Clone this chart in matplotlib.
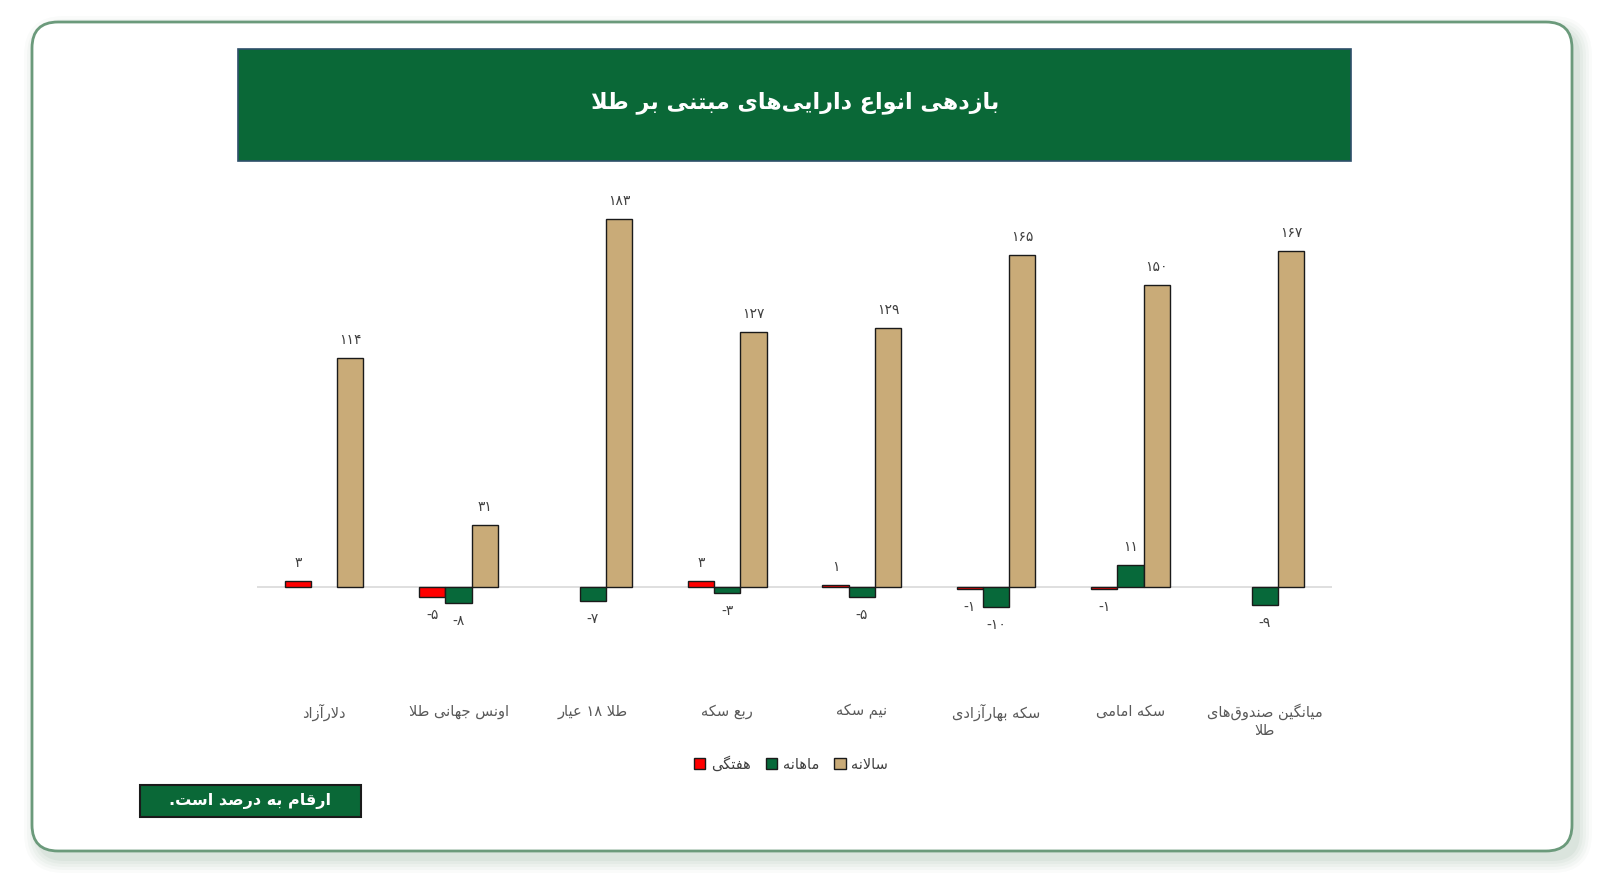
#!/usr/bin/env python3
"""
Returns of gold-based assets (weekly / monthly / annual), Persian labels.
"""

import numpy as np
import matplotlib
matplotlib.use('Agg')
import matplotlib.pyplot as plt
from matplotlib.patches import FancyBboxPatch, Rectangle, Patch

# ---- data -------------------------------------------------------------
categories = ['دلارآزاد', 'اونس جهانی طلا', 'طلا ۱۸ عیار', 'ربع سکه',
              'نیم سکه', 'سکه بهارآزادی', 'سکه امامی',
              'میانگین صندوق‌های\nطلا']
weekly = [3, -5, np.nan, 3, 1, -1, -1, np.nan]
monthly = [np.nan, -8, -7, -3, -5, -10, 11, -9]
annual = [114, 31, 183, 127, 129, 165, 150, 167]
series_names = ['هفتگی', 'ماهانه', 'سالانه']
title = 'بازدهی انواع دارایی‌های مبتنی بر طلا'
note = 'ارقام به درصد است.'

# ---- minimal Persian shaping (matplotlib has no complex text layout) ----
FORMS = {
    'ا': ('\uFE8D', '\uFE8E'), 'آ': ('\uFE81', '\uFE82'),
    'د': ('\uFEA9', '\uFEAA'), 'ذ': ('\uFEAB', '\uFEAC'),
    'ر': ('\uFEAD', '\uFEAE'), 'ز': ('\uFEAF', '\uFEB0'),
    'ژ': ('\uFB8A', '\uFB8B'), 'و': ('\uFEED', '\uFEEE'),
    'ب': ('\uFE8F', '\uFE90', '\uFE91', '\uFE92'),
    'پ': ('\uFB56', '\uFB57', '\uFB58', '\uFB59'),
    'ت': ('\uFE95', '\uFE96', '\uFE97', '\uFE98'),
    'ث': ('\uFE99', '\uFE9A', '\uFE9B', '\uFE9C'),
    'ج': ('\uFE9D', '\uFE9E', '\uFE9F', '\uFEA0'),
    'چ': ('\uFB7A', '\uFB7B', '\uFB7C', '\uFB7D'),
    'ح': ('\uFEA1', '\uFEA2', '\uFEA3', '\uFEA4'),
    'خ': ('\uFEA5', '\uFEA6', '\uFEA7', '\uFEA8'),
    'س': ('\uFEB1', '\uFEB2', '\uFEB3', '\uFEB4'),
    'ش': ('\uFEB5', '\uFEB6', '\uFEB7', '\uFEB8'),
    'ص': ('\uFEB9', '\uFEBA', '\uFEBB', '\uFEBC'),
    'ض': ('\uFEBD', '\uFEBE', '\uFEBF', '\uFEC0'),
    'ط': ('\uFEC1', '\uFEC2', '\uFEC3', '\uFEC4'),
    'ظ': ('\uFEC5', '\uFEC6', '\uFEC7', '\uFEC8'),
    'ع': ('\uFEC9', '\uFECA', '\uFECB', '\uFECC'),
    'غ': ('\uFECD', '\uFECE', '\uFECF', '\uFED0'),
    'ف': ('\uFED1', '\uFED2', '\uFED3', '\uFED4'),
    'ق': ('\uFED5', '\uFED6', '\uFED7', '\uFED8'),
    'ک': ('\uFB8E', '\uFB8F', '\uFB90', '\uFB91'),
    'گ': ('\uFB92', '\uFB93', '\uFB94', '\uFB95'),
    'ل': ('\uFEDD', '\uFEDE', '\uFEDF', '\uFEE0'),
    'م': ('\uFEE1', '\uFEE2', '\uFEE3', '\uFEE4'),
    'ن': ('\uFEE5', '\uFEE6', '\uFEE7', '\uFEE8'),
    'ه': ('\uFEE9', '\uFEEA', '\uFEEB', '\uFEEC'),
    'ی': ('\uFBFC', '\uFBFD', '\uFBFE', '\uFBFF'),
}
LAM_ALEF = {'ا': ('\uFEFB', '\uFEFC'), 'آ': ('\uFEF5', '\uFEF6')}
DIGITS = set('0123456789۰۱۲۳۴۵۶۷۸۹')


def shape_line(text):
    out = []
    i = 0
    n = len(text)
    while i < n:
        c = text[i]
        if c == '\u200c':
            i += 1
            continue
        prev = text[i - 1] if i > 0 else ''
        joins_prev = prev in FORMS and len(FORMS[prev]) == 4
        if c == 'ل' and i + 1 < n and text[i + 1] in LAM_ALEF:
            out.append(LAM_ALEF[text[i + 1]][1 if joins_prev else 0])
            i += 2
            continue
        if c not in FORMS:
            out.append(c)
            i += 1
            continue
        forms = FORMS[c]
        nxt = text[i + 1] if i + 1 < n else ''
        joins_next = len(forms) == 4 and nxt in FORMS
        if joins_prev and joins_next:
            out.append(forms[3])
        elif joins_prev:
            out.append(forms[1])
        elif joins_next:
            out.append(forms[2])
        else:
            out.append(forms[0])
        i += 1
    # visual order: reverse, but keep digit runs left-to-right
    vis = ''.join(out)[::-1]
    res, run = [], []
    for ch in vis:
        if ch in DIGITS:
            run.append(ch)
        else:
            res.extend(run[::-1])
            run = []
            res.append(ch)
    res.extend(run[::-1])
    return ''.join(res)


def fa(text):
    return '\n'.join(shape_line(line) for line in text.split('\n'))


def fa_num(v):
    s = str(int(v)).translate(str.maketrans('0123456789', '۰۱۲۳۴۵۶۷۸۹'))
    return s


# ---- figure -----------------------------------------------------------
plt.rcParams['font.family'] = ['DejaVu Sans']
W, H = 1600, 894
fig = plt.figure(figsize=(W / 100, H / 100), dpi=100)
fig.patch.set_facecolor('white')


def px_box(x0, y0, x1, y1):
    """pixel box (top-left origin) -> inches (bottom-left origin)"""
    return x0 / 100, (H - y1) / 100, (x1 - x0) / 100, (y1 - y0) / 100


# soft shadow + card
for k, a in enumerate([0.025, 0.03, 0.035, 0.04, 0.05]):
    g = 14 - k * 3
    x, y, w, h = px_box(32 - g + 6, 22 - g + 8, 1572 + g + 6, 851 + g + 8)
    fig.patches.append(FancyBboxPatch((x, y), w, h,
                       boxstyle='round,pad=0,rounding_size=%f' % ((26 + g) / 100),
                       transform=fig.dpi_scale_trans, facecolor='#2e6b45',
                       edgecolor='none', alpha=a, zorder=0))
x, y, w, h = px_box(32, 22, 1572, 851)
fig.patches.append(FancyBboxPatch((x, y), w, h,
                   boxstyle='round,pad=0,rounding_size=0.26',
                   transform=fig.dpi_scale_trans, facecolor='white',
                   edgecolor='#6b9a7b', linewidth=2, zorder=1))

# title banner
x, y, w, h = px_box(238, 49, 1351, 161)
fig.patches.append(Rectangle((x, y), w, h, transform=fig.dpi_scale_trans,
                             facecolor='#0a6837', edgecolor='#2d4f6a',
                             linewidth=1.2, zorder=2))
fig.text(795 / W, 1 - 103 / H, fa(title), color='white', fontsize=16,
         fontweight='bold', ha='center', va='center', zorder=3)

# note box
x, y, w, h = px_box(140, 785, 361, 817)
fig.patches.append(Rectangle((x, y), w, h, transform=fig.dpi_scale_trans,
                             facecolor='#0a6837', edgecolor='#1a1a1a',
                             linewidth=1.5, zorder=2))
fig.text(250 / W, 1 - 801 / H, fa(note), color='white', fontsize=11.5,
         fontweight='bold', ha='center', va='center', zorder=3)

# ---- bar chart --------------------------------------------------------
ymin, ymax = -40, 190
scale = (587 - 219) / 183.0
top_px = 587 - ymax * scale
bot_px = 587 - ymin * scale
ax = fig.add_axes([257 / W, 1 - bot_px / H, (1332 - 257) / W, (bot_px - top_px) / H])
ax.set_facecolor('none')
ax.set_zorder(4)

colors = ['#ff0000', '#07693a', '#c9ab78']
xs = np.arange(len(categories))
bw = 0.195
for j, (vals, col) in enumerate(zip([weekly, monthly, annual], colors)):
    vals = np.array(vals, dtype=float)
    ok = ~np.isnan(vals)
    pos = xs + (j - 1) * bw
    ax.bar(pos[ok], vals[ok], width=bw, color=col, edgecolor='#1a1a1a',
           linewidth=1.0, zorder=3)
    for px, v in zip(pos[ok], vals[ok]):
        off = 13 if v > 0 else -13
        ax.annotate(fa_num(v) if v > 0 else '-' + fa_num(-v), (px, v),
                    xytext=(0, off), textcoords='offset points',
                    ha='center', va='center', fontsize=10, color='#404040')

ax.axhline(0, color='#d9d9d9', linewidth=1.2, zorder=2)
ax.set_xlim(-0.5, len(categories) - 0.5)
ax.set_ylim(ymin, ymax)
ax.set_yticks([])
ax.set_xticks(xs)
ax.set_xticklabels([fa(c) for c in categories], fontsize=10.5, color='#595959',
                   va='top', multialignment='center')
ax.tick_params(axis='x', length=0, pad=26)
for s in ax.spines.values():
    s.set_visible(False)

handles = [Patch(facecolor=c, edgecolor='#1a1a1a', linewidth=1) for c in colors]
fig.legend(handles, [fa(s) for s in series_names], loc='center',
           bbox_to_anchor=(791 / W, 1 - 764 / H), ncol=3, frameon=False,
           fontsize=10.5, handlelength=0.8, handleheight=0.8,
           handletextpad=0.4, columnspacing=1.0, labelcolor='#404040')

fig.savefig('out.png', dpi=100, facecolor='white')
